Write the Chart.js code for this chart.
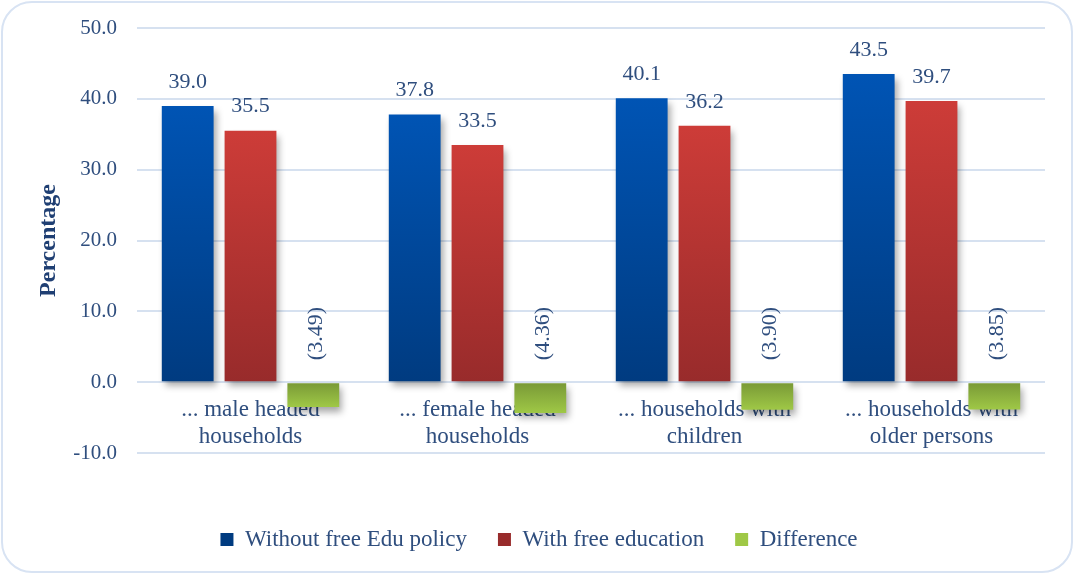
<!DOCTYPE html>
<html>
<head>
<meta charset="utf-8">
<script src="https://cdn.jsdelivr.net/npm/chart.js@4"></script>
<style>
  html, body { margin: 0; padding: 0; background: #fff; }
  #wrap { width: 1074px; height: 574px; position: relative; }
</style>
</head>
<body>
<div id="wrap"><canvas id="c"></canvas></div>
<script>
// data
const categories = [
  ['... male headed', 'households'],
  ['... female headed', 'households'],
  ['... households with', 'children'],
  ['... households with', 'older persons']
];
const withoutFree = [39.0, 37.8, 40.1, 43.5];
const withFree = [35.5, 33.5, 36.2, 39.7];
const difference = [-3.49, -4.36, -3.90, -3.85];
const yTicks = [-10, 0, 10, 20, 30, 40, 50];

const SERIF = '"Liberation Serif", "Times New Roman", serif';
const TEXT = '#2f4e7e';

// vertical gradient per bar: dark at the base, bright at the tip
function barFill(light, dark) {
  return function (ctx) {
    const chart = ctx.chart;
    if (ctx.type !== 'data' || !chart.chartArea) return light;
    const y = chart.scales.y;
    const tip = y.getPixelForValue(ctx.raw);
    const base = y.getPixelForValue(0);
    if (tip === base) return light;
    const g = chart.ctx.createLinearGradient(0, base, 0, tip);
    g.addColorStop(0, dark);
    g.addColorStop(1, light);
    return g;
  };
}

const frame = {
  id: 'frame',
  beforeDraw(chart) {
    const c = chart.ctx;
    c.save();
    c.strokeStyle = '#d8e3f3';
    c.lineWidth = 2;
    c.beginPath();
    c.roundRect(2, 2, chart.width - 4, chart.height - 4, 30);
    c.stroke();
    c.restore();
  },
  // centre the legend on the whole canvas, not just the padded area
  afterLayout(chart) {
    const lg = chart.legend;
    if (!lg) return;
    lg.left = 0;
    lg.right = chart.width + 4;
    lg.width = lg.right - lg.left;
  }
};

const shadowAndLabels = {
  id: 'shadowAndLabels',
  beforeDatasetsDraw(chart) {
    const c = chart.ctx;
    c.save();
    c.shadowColor = 'rgba(0,0,0,0.35)';
    c.shadowBlur = 7;
    c.shadowOffsetX = 3;
    c.shadowOffsetY = 5;
  },
  afterDatasetsDraw(chart) {
    const c = chart.ctx;
    c.restore();
    const zero = chart.scales.y.getPixelForValue(0);
    c.save();
    c.fillStyle = TEXT;
    c.font = '22px ' + SERIF;
    chart.data.datasets.forEach((ds, i) => {
      const meta = chart.getDatasetMeta(i);
      meta.data.forEach((bar, j) => {
        const v = ds.data[j];
        if (v >= 0) {
          c.textAlign = 'center';
          c.textBaseline = 'middle';
          c.fillText(v.toFixed(1), bar.x, bar.y - 24);
        } else {
          c.save();
          c.translate(bar.x + 3, zero - 22);
          c.rotate(-Math.PI / 2);
          c.textAlign = 'left';
          c.textBaseline = 'middle';
          c.fillText('(' + Math.abs(v).toFixed(2) + ')', 0, 0);
          c.restore();
        }
      });
    });
    c.restore();
  }
};

new Chart(document.getElementById('c'), {
  type: 'bar',
  data: {
    labels: categories,
    datasets: [
      { label: 'Without free Edu policy', data: withoutFree,
        backgroundColor: barFill('#0054b4', '#003b80') },
      { label: 'With free education', data: withFree,
        backgroundColor: barFill('#cd3c38', '#982b2b') },
      { label: 'Difference', data: difference,
        backgroundColor: barFill('#9fc846', '#789836') }
    ]
  },
  options: {
    responsive: true,
    maintainAspectRatio: false,
    animation: false,
    layout: { padding: { left: 0, right: 29, top: 28, bottom: 13 } },
    datasets: { bar: { barPercentage: 0.825, categoryPercentage: 0.83 } },
    scales: {
      x: {
        position: { y: 0 },
        z: 1,
        grid: { display: false, drawTicks: false },
        border: { display: false },
        ticks: {
          color: TEXT, padding: 14, maxRotation: 0, autoSkip: false,
          font: { family: SERIF, size: 23, lineHeight: 1.18 }
        }
      },
      y: {
        min: -10, max: 50,
        afterFit(scale) {
          scale.width = 137;
          scale.paddingTop = 0;
          scale.paddingBottom = 0;
        },
        afterBuildTicks(scale) { scale.ticks = yTicks.map(v => ({ value: v })); },
        grid: { color: '#d6e1f0', lineWidth: 2, drawTicks: false },
        border: { display: false },
        ticks: {
          color: TEXT, padding: 20,
          font: { family: SERIF, size: 21 },
          callback: v => Number(v).toFixed(1)
        },
        title: {
          display: true, text: 'Percentage', color: '#1f3f73',
          padding: { top: 34, bottom: 0 },
          font: { family: SERIF, size: 24, weight: 'bold' }
        }
      }
    },
    plugins: {
      tooltip: { enabled: false },
      legend: {
        position: 'bottom',
        title: { display: true, text: '', padding: { top: 34, bottom: 0 }, font: { size: 10, lineHeight: 1 } },
        labels: {
          color: TEXT, boxWidth: 13, boxHeight: 13, padding: 31,
          font: { family: SERIF, size: 23 }
        }
      }
    }
  },
  plugins: [frame, shadowAndLabels]
});
</script>
</body>
</html>
